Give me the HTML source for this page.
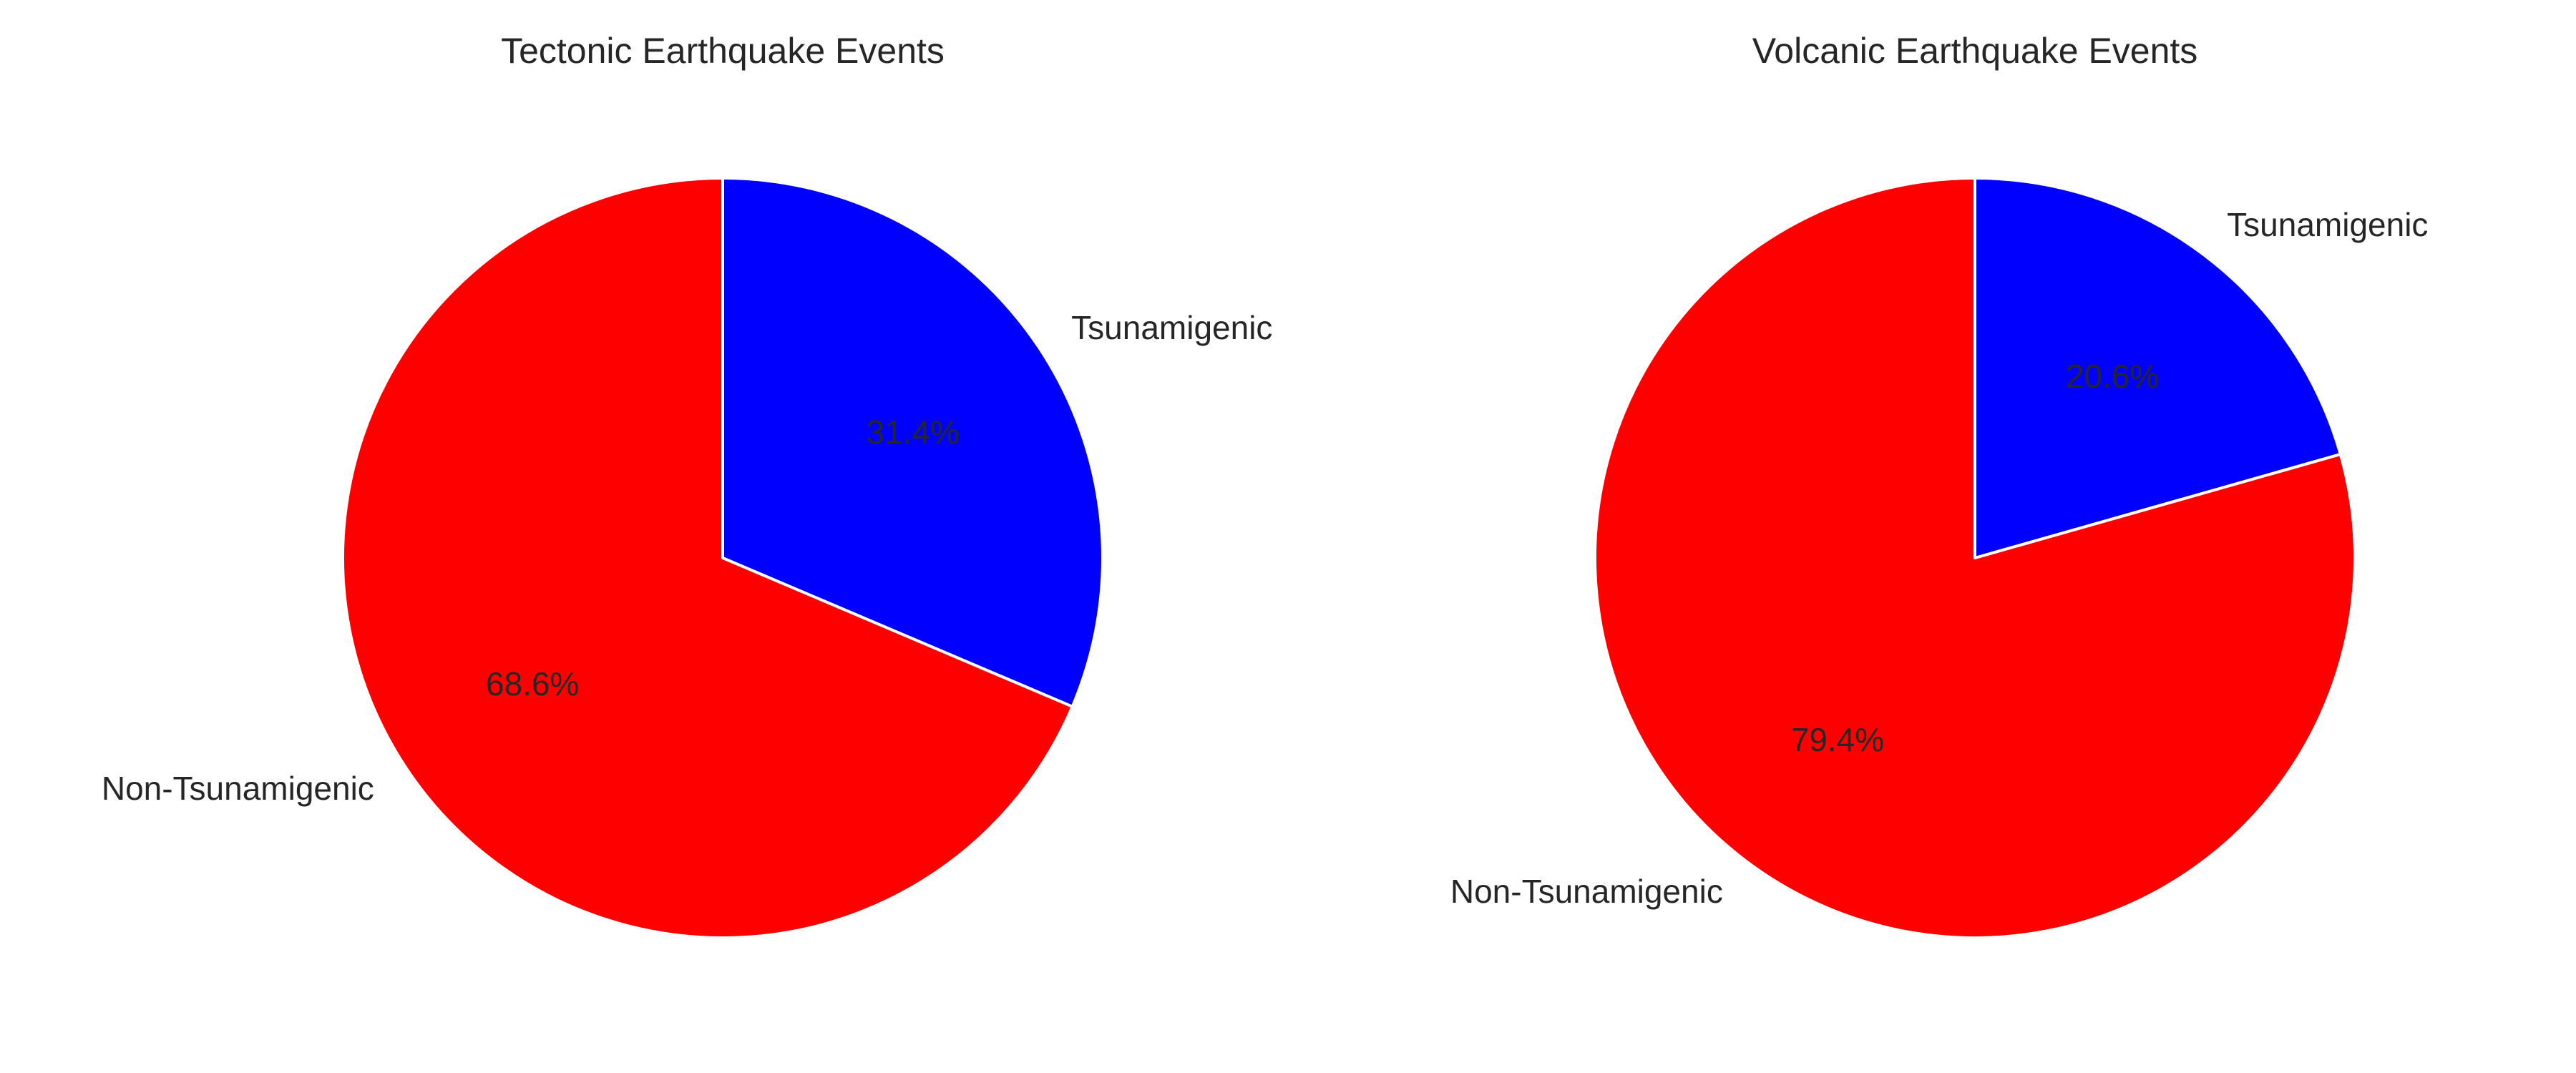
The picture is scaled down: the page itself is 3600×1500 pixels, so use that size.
<!DOCTYPE html>
<html><head><meta charset="utf-8"><style>
html,body{margin:0;padding:0;background:#fff;}
svg{display:block;font-family:"Liberation Sans",Arial,sans-serif;}
</style></head><body>
<svg id="chart" width="3600" height="1500" viewBox="0 0 3600 1500"></svg>
<script>
const titles = ["Tectonic Earthquake Events", "Volcanic Earthquake Events"];
const categories = ["Tsunamigenic", "Non-Tsunamigenic"];
const tectonicValues = [31.4, 68.6];
const volcanicValues = [20.6, 79.4];
const seriesList = [tectonicValues, volcanicValues];
const colors = ["#0000ff", "#ff0000"];

const NS = "http://www.w3.org/2000/svg";
const svg = document.getElementById("chart");
const centers = [[1010, 780], [2760, 780]];
const R = 531;
function mk(tag, attrs, parent) {
  const e = document.createElementNS(NS, tag);
  for (const k in attrs) e.setAttribute(k, attrs[k]);
  (parent || svg).appendChild(e);
  return e;
}
function pt(cx, cy, r, deg) {
  const a = deg * Math.PI / 180;
  return [cx + r * Math.cos(a), cy - r * Math.sin(a)];
}
seriesList.forEach((vals, p) => {
  const [cx, cy] = centers[p];
  const g = mk("g", {});
  
  
  const t = mk("text", {x: cx, y: 88, "text-anchor": "middle", "font-size": 50, fill: "#262626"}, g);
  t.textContent = titles[p];
  
  
  const total = vals.reduce((a, b) => a + b, 0);
  let start = 90;
  vals.forEach((v, i) => {
    const sweep = v / total * 360;
    const end = start - sweep;
    const [x1, y1] = pt(cx, cy, R, start);
    const [x2, y2] = pt(cx, cy, R, end);
    const large = sweep > 180 ? 1 : 0;
    const path = mk("path", {d: `M${cx},${cy} L${x1},${y1} A${R},${R} 0 ${large} 1 ${x2},${y2} Z`,
      fill: colors[i], stroke: "#ffffff", "stroke-width": 4, "stroke-linejoin": "round"}, g);
    
    
    const mid = start - sweep / 2;
    const [lx, ly] = pt(cx, cy, R * 1.1, mid);
    const lab = mk("text", {x: lx, y: ly, "text-anchor": lx > cx ? "start" : "end",
      "dominant-baseline": "central", "font-size": 46, fill: "#262626"}, g);
    lab.textContent = categories[i];
    
    
    const [px, py] = pt(cx, cy, R * 0.6, mid);
    const pc = mk("text", {x: px, y: py, "text-anchor": "middle",
      "dominant-baseline": "central", "font-size": 46, fill: "#262626"}, g);
    pc.textContent = (v / total * 100).toFixed(1) + "%";
    
    
    start = end;
  });
});
</script>
</body></html>
